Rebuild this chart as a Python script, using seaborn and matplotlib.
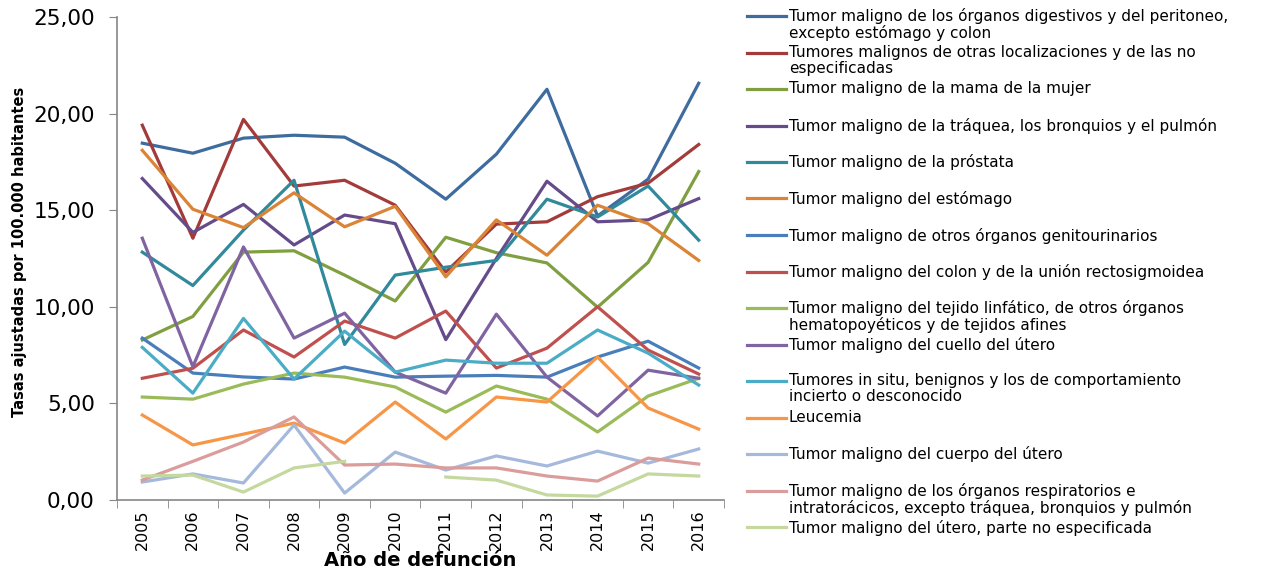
import numpy as np
import pandas as pd
import matplotlib
matplotlib.use("Agg")
import matplotlib.pyplot as plt
from matplotlib.lines import Line2D
import seaborn as sns

# data
years = ["2005", "2006", "2007", "2008", "2009", "2010",
         "2011", "2012", "2013", "2014", "2015", "2016"]

series_names = [
    "Tumor maligno de los órganos digestivos y del peritoneo,\nexcepto estómago y colon",
    "Tumores malignos de otras localizaciones y de las no\nespecificadas",
    "Tumor maligno de la mama de la mujer",
    "Tumor maligno de la tráquea, los bronquios y el pulmón",
    "Tumor maligno de la próstata",
    "Tumor maligno del estómago",
    "Tumor maligno de otros órganos genitourinarios",
    "Tumor maligno del colon y de la unión rectosigmoidea",
    "Tumor maligno del tejido linfático, de otros órganos\nhematopoyéticos y de tejidos afines",
    "Tumor maligno del cuello del útero",
    "Tumores in situ, benignos y los de comportamiento\nincierto o desconocido",
    "Leucemia",
    "Tumor maligno del cuerpo del útero",
    "Tumor maligno de los órganos respiratorios e\nintratorácicos, excepto tráquea, bronquios y pulmón",
    "Tumor maligno del útero, parte no especificada",
]

digestivos = [18.47, 17.95, 18.73, 18.88, 18.78, 17.43, 15.57, 17.90, 21.26, 14.70, 16.61, 21.57]
otras_loc = [19.40, 13.55, 19.70, 16.25, 16.55, 15.26, 11.80, 14.28, 14.40, 15.70, 16.40, 18.40]
mama = [8.28, 9.50, 12.83, 12.90, 11.64, 10.30, 13.60, 12.80, 12.27, 9.98, 12.30, 17.00]
traquea = [16.64, 13.85, 15.30, 13.20, 14.75, 14.30, 8.30, 12.50, 16.50, 14.40, 14.50, 15.60]
prostata = [12.83, 11.10, 13.97, 16.55, 8.05, 11.64, 12.05, 12.40, 15.57, 14.65, 16.25, 13.45]
estomago = [18.10, 15.05, 14.10, 15.90, 14.14, 15.20, 11.55, 14.50, 12.67, 15.26, 14.30, 12.40]
genitourinarios = [8.38, 6.57, 6.37, 6.26, 6.88, 6.36, 6.41, 6.45, 6.36, 7.40, 8.22, 6.83]
colon = [6.30, 6.82, 8.80, 7.40, 9.26, 8.38, 9.78, 6.83, 7.86, 10.00, 7.76, 6.52]
linfatico = [5.33, 5.22, 6.00, 6.57, 6.36, 5.85, 4.55, 5.90, 5.22, 3.52, 5.38, 6.30]
cuello_utero = [13.55, 6.90, 13.10, 8.38, 9.67, 6.62, 5.53, 9.62, 6.36, 4.35, 6.72, 6.30]
in_situ = [7.90, 5.53, 9.40, 6.26, 8.74, 6.62, 7.24, 7.08, 7.08, 8.80, 7.60, 5.95]
leucemia = [4.40, 2.85, 3.41, 3.98, 2.95, 5.07, 3.16, 5.33, 5.07, 7.40, 4.76, 3.67]
cuerpo_utero = [0.93, 1.35, 0.88, 3.88, 0.36, 2.48, 1.55, 2.28, 1.76, 2.53, 1.91, 2.64]
respiratorios = [1.03, 2.00, 3.00, 4.30, 1.81, 1.86, 1.66, 1.66, 1.24, 0.98, 2.17, 1.86]
utero_no_esp = [1.24, 1.29, 0.41, 1.66, 2.00, np.nan, 1.19, 1.03, 0.26, 0.20, 1.35, 1.24]

all_values = [digestivos, otras_loc, mama, traquea, prostata, estomago,
              genitourinarios, colon, linfatico, cuello_utero, in_situ,
              leucemia, cuerpo_utero, respiratorios, utero_no_esp]

colors = ["#3E6C9F", "#A33B3A", "#7F9F40", "#654B8A", "#31899C",
          "#DB8436", "#4A7EBB", "#C0504D", "#9BBB59", "#8064A2",
          "#4BACC6", "#F79646", "#A5B9DC", "#DA9D9B", "#C4D89F"]

# long form table; a NaN breaks the line into separate pieces
rows = []
for name, vals in zip(series_names, all_values):
    piece = 0
    for year, v in zip(years, vals):
        if np.isnan(v):
            piece += 1
            continue
        rows.append({"serie": name, "anio": year, "tasa": v, "tramo": f"{name}-{piece}"})
df = pd.DataFrame(rows)

W, H = 1264, 571
fig = plt.figure(figsize=(W / 100, H / 100), dpi=100)
ax = fig.add_axes([117 / W, 1 - 500 / H, (724 - 117) / W, (500 - 17) / H])

sns.lineplot(
    data=df, x="anio", y="tasa", hue="serie", units="tramo", estimator=None,
    palette=dict(zip(series_names, colors)), hue_order=series_names,
    sort=False, linewidth=2.3, legend=False, ax=ax,
)

ax.set_xlim(-0.5, len(years) - 0.5)
ax.set_ylim(0, 25)
ax.set_yticks(np.arange(0, 26, 5))
ax.set_yticklabels([f"{v:.2f}".replace(".", ",") for v in np.arange(0, 26, 5)])
ax.set_xticks(range(len(years)))
ax.set_xticklabels(years, rotation=90)
ax.set_xticks(np.arange(-0.5, len(years), 1), minor=True)
ax.tick_params(axis="x", which="major", length=0, pad=7, labelsize=11.5)
ax.tick_params(axis="x", which="minor", length=6, color="#868686", direction="out")
ax.tick_params(axis="y", length=6, color="#868686", pad=10, labelsize=15.5)
ax.set_xlabel("")
ax.set_ylabel("")
for side in ["top", "right"]:
    ax.spines[side].set_visible(False)
for side in ["left", "bottom"]:
    ax.spines[side].set_color("#868686")
    ax.spines[side].set_linewidth(1.2)

fig.text(20 / W, 1 - 252 / H, "Tasas ajustadas por 100.000 habitantes",
         rotation=90, ha="center", va="center", fontsize=10.5, fontweight="bold")
fig.text(420 / W, 1 - 561 / H, "Año de defunción", ha="center", va="center",
         fontsize=14, fontweight="bold")

# legend drawn Excel-style: evenly spaced entries, wrapped text hangs below
for i, (name, col) in enumerate(zip(series_names, colors)):
    y = 16 + 36.5 * i
    fig.add_artist(Line2D([747 / W, 786 / W], [1 - y / H, 1 - y / H],
                          color=col, linewidth=2.3, transform=fig.transFigure))
    fig.text(789 / W, 1 - (y - 7.5) / H, name, ha="left", va="top",
             fontsize=11, linespacing=1.05)

fig.savefig("out.png", dpi=100)
